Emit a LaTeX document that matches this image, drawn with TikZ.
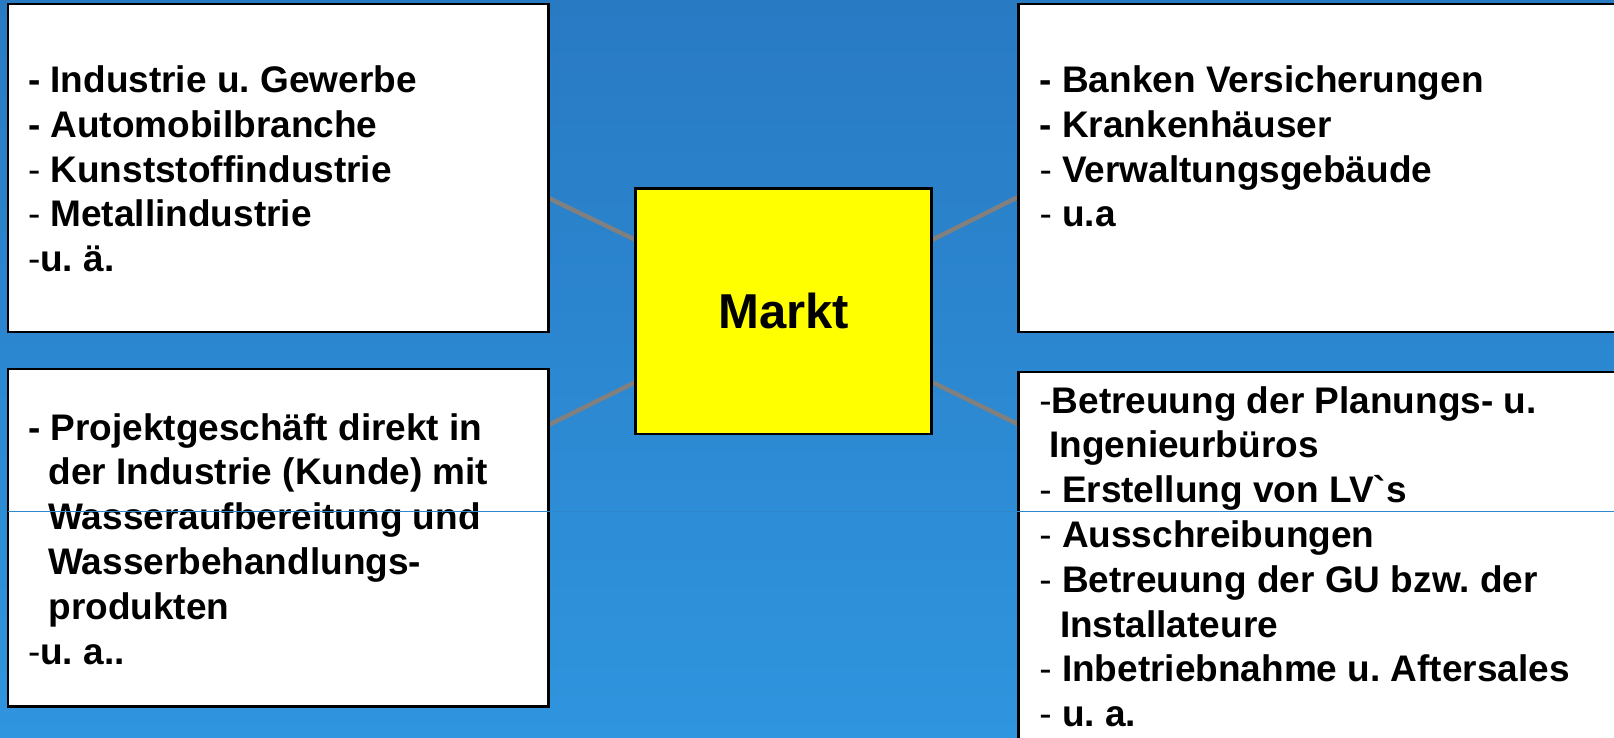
\documentclass[tikz,border=0pt]{standalone}
\usepackage{fontspec}
\setmainfont{Liberation Sans}
\usetikzlibrary{calc}
\definecolor{bgtop}{HTML}{287AC3}
\definecolor{bgbot}{HTML}{2F95DE}
\definecolor{conn}{HTML}{808080}
\definecolor{thinblue}{HTML}{2F87CD}
\definecolor{marktyellow}{RGB}{255,255,0}
\pgfdeclarelayer{bg}
\pgfsetlayers{bg,main}
\tikzset{
  panel/.style={draw=black, line width=2.5pt, fill=white, inner sep=0pt, outer sep=0pt, anchor=north west},
  panetext/.style={anchor=north west, inner sep=0pt, outer sep=0pt, align=left, font=\fontsize{37}{44.8}\selectfont\bfseries},
  link/.style={draw=conn, line width=4.5pt},
  marktbox/.style={draw=black, line width=2.5pt, fill=marktyellow, inner sep=0pt, outer sep=0pt, font=\fontsize{49}{55}\selectfont\bfseries},
  hline/.style={draw=thinblue, line width=1.3pt}
}
\newcommand{\thindash}{{\mdseries -}}
\newcommand{\firstlinestrut}{\rule{0pt}{30pt}}
\frenchspacing
\begin{document}
\begin{tikzpicture}[x=1pt,y=-1pt]
\useasboundingbox (0,0) rectangle (1614,737);
\clip (0,0) rectangle (1614,737);
% panels
\node[panel, minimum width=540.5pt, minimum height=328pt] (tl) at (8,4) {};
\node[panel, minimum width=700pt, minimum height=328pt] (tr) at (1018.5,4) {};
\node[panel, minimum width=540.5pt, minimum height=337.5pt] (bl) at (8,369) {};
\node[panel, minimum width=700pt, minimum height=400pt] (br) at (1018.5,372) {};
\node[marktbox, minimum width=296pt, minimum height=245.7pt] (markt) at (783.7,311.2) {Markt};
% background and connectors
\begin{pgfonlayer}{bg}
\shade[top color=bgtop, bottom color=bgbot] (0,0) rectangle (1614,737);
\draw[link] ($(tl.north east)!0.5915!(tl.south east)$) -- ($(markt.north west)!0.2104!(markt.south west)$);
\draw[link] ($(tr.north west)!0.588!(tr.south west)$) -- ($(markt.north east)!0.2104!(markt.south east)$);
\draw[link] ($(bl.north east)!0.166!(bl.south east)$) -- ($(markt.north west)!0.788!(markt.south west)$);
\draw[link] ($(br.north west)!0.131!(br.south west)$) -- ($(markt.north east)!0.788!(markt.south east)$);
\end{pgfonlayer}
% texts
\node[panetext] (tltext) at (28,62.5) {\firstlinestrut- Industrie u. Gewerbe\\
- Automobilbranche\\
\thindash{} Kunststoffindustrie\\
\thindash{} Metallindustrie\\
\thindash{}u. ä.};
\node[panetext] (trtext) at (1039.6,62.5) {\firstlinestrut- Banken Versicherungen\\
- Krankenhäuser\\
\thindash{} Verwaltungsgebäude\\
\thindash{} u.a};
\node[panetext] (bltext) at (28,410) {\firstlinestrut- Projektgeschäft direkt in\\
\hspace*{20.4pt}der Industrie (Kunde) mit\\
\hspace*{20.4pt}Wasseraufbereitung und\\
\hspace*{20.4pt}Wasserbehandlungs-\\
\hspace*{20.4pt}produkten\\
\thindash{}u. a..};
\node[panetext] (brtext) at (1039.4,383) {\firstlinestrut\thindash{}Betreuung der Planungs- u.\\
\hspace*{10pt}Ingenieurbüros\\
\thindash{} Erstellung von LV\textasciigrave s\\
\thindash{} Ausschreibungen\\
\thindash{} Betreuung der GU bzw. der\\
\hspace*{20.6pt}Installateure\\
\thindash{} Inbetriebnahme u. Aftersales\\
\thindash{} u. a.};
% thin horizontal line
\coordinate (hlstart) at (bl.west |- 0,511.3);
\coordinate (hlend) at (1614,511.3);
\draw[hline] (hlstart) -- (hlend);
\end{tikzpicture}
\end{document}
